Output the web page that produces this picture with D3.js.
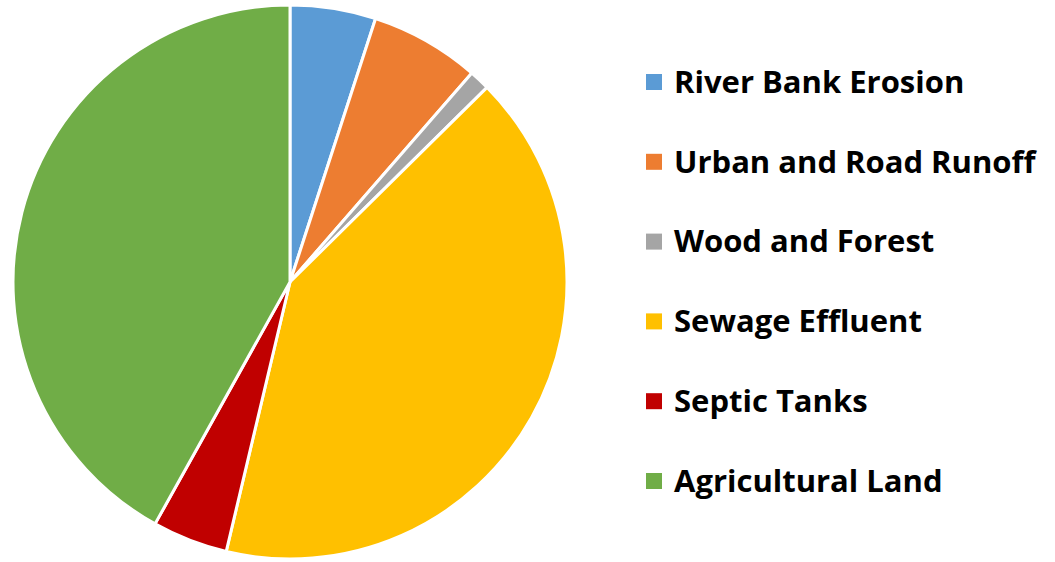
<!DOCTYPE html>
<html><head><meta charset="utf-8">
<script src="https://cdn.jsdelivr.net/npm/d3@7"></script>
<style>body{margin:0;background:#fff}svg{display:block}</style>
</head><body>
<svg id="c" width="1055" height="562"></svg>
<script>
const categories = ["River Bank Erosion","Urban and Road Runoff","Wood and Forest","Sewage Effluent","Septic Tanks","Agricultural Land"];
const values = [5.0, 6.4, 1.2, 41.1, 4.4, 41.9];
const colors = ["#5b9bd5","#ed7d31","#a5a5a5","#ffc000","#c00000","#70ad47"];

const svg = d3.select("#c");
const cx = 290, cy = 282, r = 277;
const pie = d3.pie().sort(null).value(d => d)(values);
const arc = d3.arc().innerRadius(0).outerRadius(r);
const color = d3.scaleOrdinal().domain(categories).range(colors);

svg.append("g").attr("transform", `translate(${cx},${cy})`)
  .selectAll("path").data(pie).join("path")
  .attr("d", arc)
  .attr("fill", (d,i) => color(categories[i]))
  .attr("stroke", "#fff").attr("stroke-width", 3).attr("stroke-linejoin","round");

const y = d3.scalePoint().domain(categories).range([82, 481]);
const lg = svg.append("g").selectAll("g").data(categories).join("g")
  .attr("transform", d => `translate(646,${y(d)})`);
lg.append("rect").attr("x",0).attr("y",-8).attr("width",16).attr("height",16).attr("fill", d => color(d));
lg.append("text").attr("x",28).attr("y",0).attr("dy","0.35em")
  .attr("font-family","'Open Sans', sans-serif").attr("font-weight","bold").attr("font-size",31)
  .attr("fill","#000").text(d => d);
</script>
</body></html>
